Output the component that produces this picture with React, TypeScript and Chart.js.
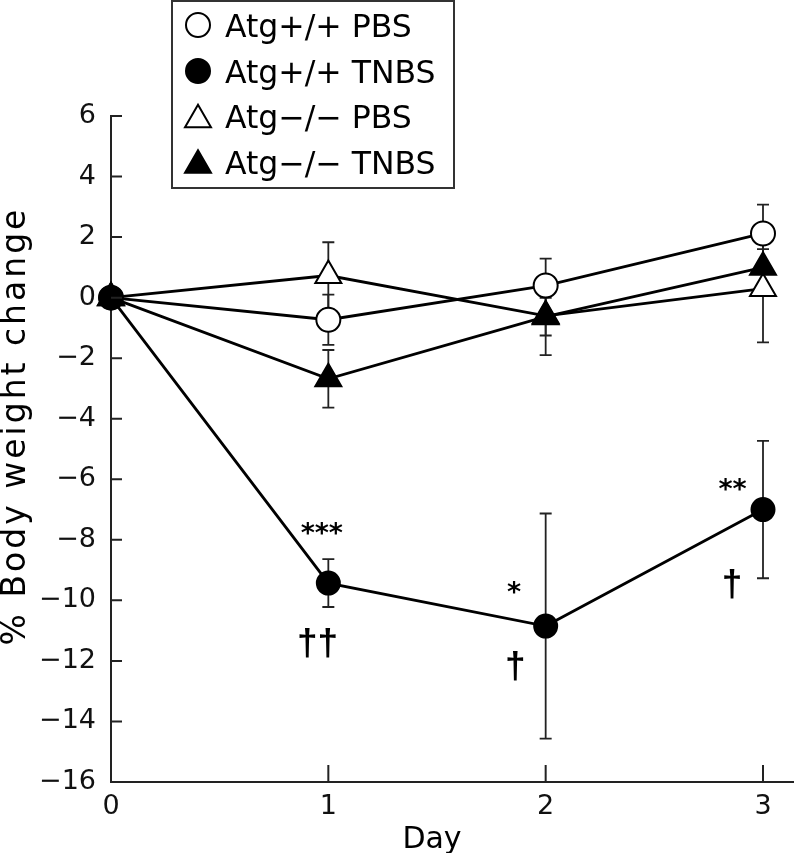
import React, { useEffect, useRef } from 'react';
import { Chart, registerables } from 'chart.js';

Chart.register(...registerables);

// ---------- data ----------
const days = [0, 1, 2, 3];
const seriesLabels = ['Atg+/+ PBS', 'Atg+/+ TNBS', 'Atg\u2212/\u2212 PBS', 'Atg\u2212/\u2212 TNBS'];

const wtPbs = [0, -0.73, 0.4, 2.12];
const wtPbsErr = [0, 0.83, 0.89, 0.95];
const wtTnbs = [0, -9.43, -10.85, -7.0];
const wtTnbsErr = [0, 0.79, 3.72, 2.27];
const koPbs = [0, 0.73, -0.6, 0.3];
const koPbsErr = [0, 1.1, 1.3, 1.78];
const koTnbs = [0, -2.68, -0.63, 1.0];
const koTnbsErr = [0, 0.95, 0.62, 0.6];

const xTickValues = [0, 1, 2, 3];
const yTickValues = [-16, -14, -12, -10, -8, -6, -4, -2, 0, 2, 4, 6];

const xTitle = 'Day';
const yTitle = '% Body weight change';

const annotationTexts = ['***', '\u2020\u2020', '*', '\u2020', '**', '\u2020'];
const annotationX = [0.97, 0.95, 1.855, 1.86, 2.86, 2.857];
const annotationY = [-7.64, -11.4, -9.59, -12.17, -6.18, -9.45];

const FONT = '"DejaVu Sans", "Liberation Sans", sans-serif';
const DAGGER_FONT = '"Liberation Sans", "DejaVu Sans", sans-serif';

const fmt = (v: number) => (v < 0 ? '\u2212' + Math.abs(v) : String(v));

function drawMarker(ctx: CanvasRenderingContext2D, style: string, filled: boolean, x: number, y: number, r: number) {
  ctx.save();
  ctx.beginPath();
  if (style === 'circle') {
    ctx.arc(x, y, r, 0, Math.PI * 2);
  } else {
    const h = r * 1.5;
    const w = r * Math.sqrt(3);
    ctx.moveTo(x, y - h / 2);
    ctx.lineTo(x + w / 2, y + h / 2);
    ctx.lineTo(x - w / 2, y + h / 2);
    ctx.closePath();
  }
  ctx.fillStyle = filled ? '#000' : '#fff';
  ctx.fill();
  ctx.lineWidth = 2;
  ctx.strokeStyle = '#000';
  ctx.stroke();
  ctx.restore();
}

const errorBarsPlugin = {
  id: 'errorBars',
  beforeDatasetsDraw(chart: any) {
    const ctx = chart.ctx;
    const xs = chart.scales.x;
    const ys = chart.scales.y;
    ctx.save();
    ctx.strokeStyle = '#222';
    ctx.lineWidth = 1.8;
    chart.data.datasets.forEach((ds: any) => {
      const errs: number[] = ds.errors || [];
      ds.data.forEach((p: any, i: number) => {
        const e = errs[i];
        if (!e) return;
        const px = xs.getPixelForValue(p.x);
        const top = ys.getPixelForValue(p.y + e);
        const bot = ys.getPixelForValue(p.y - e);
        ctx.beginPath();
        ctx.moveTo(px, top);
        ctx.lineTo(px, bot);
        ctx.moveTo(px - 6, top);
        ctx.lineTo(px + 6, top);
        ctx.moveTo(px - 6, bot);
        ctx.lineTo(px + 6, bot);
        ctx.stroke();
      });
    });
    ctx.restore();
  },
};

const decorPlugin = {
  id: 'decor',
  afterDraw(chart: any) {
    const ctx: CanvasRenderingContext2D = chart.ctx;
    const xs = chart.scales.x;
    const ys = chart.scales.y;
    const area = chart.chartArea;
    ctx.save();
    // inward tick marks + extended x axis
    ctx.strokeStyle = '#222';
    ctx.lineWidth = 2;
    ctx.beginPath();
    yTickValues.forEach((v) => {
      const py = ys.getPixelForValue(v);
      ctx.moveTo(area.left, py);
      ctx.lineTo(area.left + 11, py);
    });
    xTickValues.forEach((v) => {
      if (v === 0) return;
      const px = xs.getPixelForValue(v);
      ctx.moveTo(px, area.bottom);
      ctx.lineTo(px, area.bottom - 17);
    });
    ctx.moveTo(area.right, area.bottom);
    ctx.lineTo(chart.width, area.bottom);
    ctx.stroke();

    // significance annotations
    ctx.fillStyle = '#000';
    ctx.textAlign = 'center';
    ctx.textBaseline = 'alphabetic';
    annotationTexts.forEach((t, i) => {
      const isStar = t.indexOf('*') >= 0;
      ctx.font = isStar ? `bold 27px ${FONT}` : `bold 37px ${DAGGER_FONT}`;
      const m = ctx.measureText(t);
      const cx = xs.getPixelForValue(annotationX[i]);
      const cy = ys.getPixelForValue(annotationY[i]);
      const base = cy + (m.actualBoundingBoxAscent - m.actualBoundingBoxDescent) / 2;
      ctx.fillText(t, cx, base);
    });

    // axis titles
    ctx.font = `30px ${FONT}`;
    ctx.textAlign = 'center';
    ctx.fillText(xTitle, 432, 848);
    ctx.save();
    ctx.translate(25, 426);
    ctx.rotate(-Math.PI / 2);
    ctx.font = `33px ${FONT}`;
    try { (ctx as any).letterSpacing = '3px'; } catch (e) {}
    ctx.textAlign = 'center';
    ctx.fillText(yTitle, 0, 0);
    ctx.restore();

    // legend
    const bx = 172, by = 1, bw = 282, bh = 187;
    ctx.fillStyle = '#fff';
    ctx.fillRect(bx, by, bw, bh);
    ctx.strokeStyle = '#333';
    ctx.lineWidth = 2;
    ctx.strokeRect(bx, by, bw, bh);
    const baselines = [37, 83, 128, 173.5];
    chart.data.datasets.forEach((ds: any) => {
      const li = ds.legendIndex;
      const b = baselines[li];
      drawMarker(ctx, ds.pointStyle, ds.pointBackgroundColor === '#000', 198, b - 12, ds.pointStyle === 'circle' ? 12 : 15);
      ctx.fillStyle = '#000';
      ctx.font = `31.5px ${FONT}`;
      ctx.textAlign = 'left';
      ctx.textBaseline = 'alphabetic';
      ctx.fillText(ds.label, 225, b);
    });
    ctx.restore();
  },
};

const toPoints = (ys: number[]) => days.map((d, i) => ({ x: d, y: ys[i] }));

export default function App() {
  const ref = useRef<HTMLCanvasElement | null>(null);
  useEffect(() => {
    if (!ref.current) return;
    const common = {
      borderColor: '#000',
      borderWidth: 2.8,
      pointBorderColor: '#000',
      pointBorderWidth: 2,
      showLine: true,
      clip: false as any,
      tension: 0,
    };
    const chart = new Chart(ref.current, {
      type: 'line',
      data: {
        datasets: [
          { ...common, label: seriesLabels[0], data: toPoints(wtPbs), errors: wtPbsErr, pointStyle: 'circle', pointRadius: 12, pointBackgroundColor: '#fff', order: 2, legendIndex: 0 } as any,
          { ...common, label: seriesLabels[1], data: toPoints(wtTnbs), errors: wtTnbsErr, pointStyle: 'circle', pointRadius: 11.5, pointBackgroundColor: '#000', order: 0, legendIndex: 1 } as any,
          { ...common, label: seriesLabels[2], data: toPoints(koPbs), errors: koPbsErr, pointStyle: 'triangle', pointRadius: 15, pointBackgroundColor: '#fff', order: 3, legendIndex: 2 } as any,
          { ...common, label: seriesLabels[3], data: toPoints(koTnbs), errors: koTnbsErr, pointStyle: 'triangle', pointRadius: 15, pointBackgroundColor: '#000', order: 1, legendIndex: 3 } as any,
        ],
      },
      options: {
        responsive: false,
        animation: false,
        devicePixelRatio: 1,
        layout: { padding: { top: 116, right: 31, left: 0, bottom: 0 } },
        plugins: { legend: { display: false }, tooltip: { enabled: false }, title: { display: false } },
        scales: {
          x: {
            type: 'linear',
            min: 0,
            max: 3,
            grid: { display: false, drawTicks: false },
            border: { display: true, color: '#222', width: 2 },
            ticks: {
              stepSize: 1,
              color: '#111',
              padding: 9,
              font: { family: FONT, size: 27 },
              callback: (v: any) => fmt(Number(v)),
            },
            afterFit: (s: any) => { s.height = 71; },
          },
          y: {
            type: 'linear',
            min: -16,
            max: 6,
            grid: { display: false, drawTicks: false },
            border: { display: true, color: '#222', width: 2 },
            ticks: {
              stepSize: 2,
              color: '#111',
              padding: 15,
              font: { family: FONT, size: 27 },
              callback: (v: any) => fmt(Number(v)),
            },
            afterFit: (s: any) => { s.width = 111; },
          },
        },
      } as any,
      plugins: [errorBarsPlugin, decorPlugin],
    });
    return () => chart.destroy();
  }, []);
  return (
    <div style={{ position: 'absolute', left: 0, top: 0, width: 794, height: 853, background: '#fff' }}>
      <canvas ref={ref} width={794} height={853} style={{ display: 'block' }} />
    </div>
  );
}
